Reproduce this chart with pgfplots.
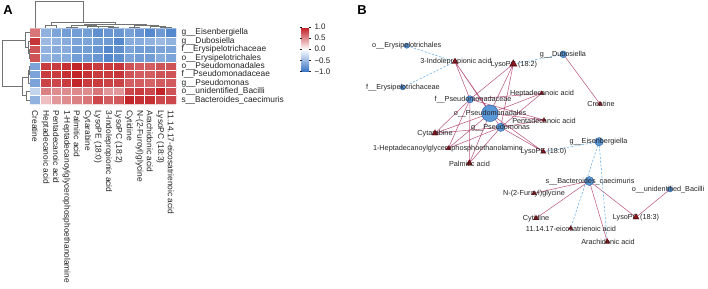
\documentclass[border=0pt]{standalone}
\usepackage{pgfplots}
\pgfplotsset{compat=1.18}
\usepackage{fontspec}
\setmainfont{Liberation Sans}
\usetikzlibrary{calc}

\definecolor{edgepos}{RGB}{188,92,132}
\definecolor{edgeneg}{RGB}{100,172,230}
\definecolor{nodeblue}{RGB}{90,152,216}
\definecolor{nodeblueline}{RGB}{45,95,165}
\definecolor{nodered}{RGB}{145,18,28}
\definecolor{noderedline}{RGB}{105,10,18}
\definecolor{dendro}{RGB}{115,115,115}
\definecolor{txt}{RGB}{35,35,35}

\newcommand{\hmfont}{\fontsize{8.4}{9}\selectfont}
\newcommand{\netfont}{\fontsize{7.3}{8}\selectfont}

\begin{document}
\begin{tikzpicture}
\useasboundingbox (0,0) rectangle (708bp,289bp);

% whole picture in pixel units, y counted from the top
\begin{axis}[at={(0,0)}, anchor=south west, scale only axis,
  width=708bp, height=289bp, xmin=0, xmax=708, ymin=0, ymax=289,
  y dir=reverse, hide axis, clip=false]

% column dendrogram
\addplot[dendro, line width=0.6pt, unbounded coords=jump, mark=none] coordinates {
(45.6,28)(45.6,25)(56.1,25)(56.1,28) (nan,nan)
(66.5,28)(66.5,27)(76.9,27)(76.9,28) (nan,nan)
(108.3,28)(108.3,27)(118.7,27)(118.7,28) (nan,nan)
(97.8,28)(97.8,26.3)(113.5,26.3)(113.5,27) (nan,nan)
(87.4,28)(87.4,25.8)(105.65,25.8)(105.65,26.3) (nan,nan)
(71.7,27)(71.7,25.2)(96.5,25.2)(96.5,25.8) (nan,nan)
(129.1,28)(129.1,27)(139.6,27)(139.6,28) (nan,nan)
(160.4,28)(160.4,27.2)(170.9,27.2)(170.9,28) (nan,nan)
(150,28)(150,26.5)(165.65,26.5)(165.65,27.2) (nan,nan)
(134.35,27)(134.35,25.5)(157.8,25.5)(157.8,26.5) (nan,nan)
(84.1,25.2)(84.1,24.3)(146.1,24.3)(146.1,25.5) (nan,nan)
(50.85,25)(50.85,22)(115.1,22)(115.1,24.3) (nan,nan)
(35.2,28)(35.2,1.2)(83,1.2)(83,22)
};

% row dendrogram
\addplot[dendro, line width=0.6pt, unbounded coords=jump, mark=none] coordinates {
(30,49.5)(29.3,49.5)(29.3,57.9)(30,57.9) (nan,nan)
(30,41.1)(27.8,41.1)(27.8,53.7)(29.3,53.7) (nan,nan)
(30,32.7)(25,32.7)(25,47.4)(27.8,47.4) (nan,nan)
(30,66.3)(29.5,66.3)(29.5,74.7)(30,74.7) (nan,nan)
(29.5,70.5)(28.3,70.5)(28.3,83.1)(30,83.1) (nan,nan)
(30,91.5)(26,91.5)(26,99.9)(30,99.9) (nan,nan)
(28.3,76.8)(22.5,76.8)(22.5,95.7)(26,95.7) (nan,nan)
(25,40.05)(2,40.05)(2,86.25)(22.5,86.25)
};

% network: positive correlations
\addplot[edgepos, line width=0.55pt, unbounded coords=jump, mark=none] coordinates {
(470,99.3)(455,61.7) (nan,nan) (490,113.3)(455,61.7) (nan,nan) (500.7,127.3)(455,61.7) (nan,nan)
(470,99.3)(513.3,64) (nan,nan) (490,113.3)(513.3,64) (nan,nan) (500.7,127.3)(513.3,64) (nan,nan)
(470,99.3)(541.7,93.3) (nan,nan) (490,113.3)(541.7,93.3) (nan,nan) (500.7,127.3)(541.7,93.3) (nan,nan)
(470,99.3)(544,120) (nan,nan) (490,113.3)(544,120) (nan,nan) (500.7,127.3)(544,120) (nan,nan)
(470,99.3)(435,133.3) (nan,nan) (490,113.3)(435,133.3) (nan,nan) (500.7,127.3)(435,133.3) (nan,nan)
(470,99.3)(448.3,148.3) (nan,nan) (490,113.3)(448.3,148.3) (nan,nan) (500.7,127.3)(448.3,148.3) (nan,nan)
(470,99.3)(469.3,163.3) (nan,nan) (490,113.3)(469.3,163.3) (nan,nan) (500.7,127.3)(469.3,163.3) (nan,nan)
(490,113.3)(543.3,151.7) (nan,nan) (500.7,127.3)(543.3,151.7) (nan,nan)
(563.3,54.3)(600,104) (nan,nan)
(670,189.3)(636,217.3) (nan,nan)
(589.3,181)(534,193.3) (nan,nan)
(589.3,181)(536,218.3) (nan,nan)
(589.3,181)(636,217.3) (nan,nan)
(589.3,181)(607.3,241.7)
};

% network: negative correlations
\addplot[edgeneg, line width=0.55pt, dash pattern=on 2.2pt off 1.6pt, unbounded coords=jump, mark=none] coordinates {
(406.7,45.7)(455,61.7) (nan,nan)
(402.7,87.3)(455,61.7) (nan,nan)
(563.3,54.3)(513.3,64) (nan,nan)
(599,141.7)(543.3,151.7) (nan,nan)
(599,141.7)(570.7,228.3) (nan,nan)
(599,141.7)(607.3,241.7)
};

% bacteria nodes
\addplot[scatter, only marks, mark=*, line width=0.4pt,
  scatter/use mapped color={draw=nodeblueline, fill=nodeblue},
  visualization depends on={\thisrow{r} \as \rad},
  scatter/@pre marker code/.append style={/tikz/mark size=\rad}]
  table {
x y r
490 113.3 8.3
589.3 181 4.5
599 141.7 4.2
500.7 127.3 4.2
470 99.3 3.6
563.3 54.3 3.4
406.7 45.7 2.6
402.7 87.3 2.6
670 189.3 2.7
};

% metabolite nodes
\addplot[scatter, only marks, mark=triangle*, line width=0.3pt,
  scatter/use mapped color={draw=noderedline, fill=nodered},
  visualization depends on={\thisrow{r} \as \rad},
  scatter/@pre marker code/.append style={/tikz/mark size=\rad}]
  table {
x y r
455 61.7 3.6
513.3 64 4.3
435 133.3 3.6
541.7 93.3 2.5
544 120 2.5
600 104 2.7
448.3 148.3 2.7
469.3 163.3 3.6
543.3 151.7 3.1
534 193.3 2.7
536 218.3 3.1
636 217.3 3.6
570.7 228.3 2.6
607.3 241.7 3.1
};

% node labels
\addplot[draw=none, mark=none, nodes near coords, point meta=explicit symbolic,
  every node near coord/.append style={font=\netfont, text=txt, anchor=center, inner sep=0pt}]
  table[col sep=comma, meta=lab] {
x,y,lab
406.7,45.7,{o\_\_Erysipelotrichales}
456,62,{3-Indolepropionic acid}
514,64.5,{LysoPC (18:2)}
403,87.5,{f\_\_Erysipelotrichaceae}
473,99.5,{f\_\_Pseudomonadaceae}
490,114,{o\_\_Pseudomonadales}
500.5,127.5,{g\_\_Pseudomonas}
435,134,{Cytarabine}
542,93.5,{Heptadecanoic acid}
544,120.5,{Pentadecanoic acid}
563,54.5,{g\_\_Dubosiella}
601,104,{Creatine}
598.5,142,{g\_\_Eisenbergiella}
448,148.5,{1-Heptadecanoylglycerophosphoethanolamine}
469.5,164,{Palmitic acid}
543.5,152,{LysoPE (18:0)}
590,181.5,{s\_\_Bacteroides\_caecimuris}
534,193.5,{N-(2-Furoyl)glycine}
668,189.5,{o\_\_unidentified\_Bacilli}
536,218.5,{Cytidine}
636,217.5,{LysoPC (18:3)}
571,228.5,{11.14.17-eicosatrienoic acid}
608,242,{Arachidonic acid}
};

\node[font=\fontsize{13}{14}\selectfont\bfseries, text=black] at (axis cs:8,10) {A};
\node[font=\fontsize{13}{14}\selectfont\bfseries, text=black] at (axis cs:362,10) {B};
\end{axis}

% heatmap
\begin{axis}[at={(30bp,185bp)}, anchor=south west, scale only axis,
  width=146bp, height=75.5bp,
  xmin=-0.5, xmax=13.5, ymin=-0.5, ymax=8.5, y dir=reverse,
  axis line style={draw=none}, major tick length=0pt, minor tick length=0pt,
  xtick={0,...,13}, ytick={0,...,8},
  minor xtick={0.5,1.5,...,12.5}, minor ytick={0.5,1.5,...,7.5},
  minor grid style={white, line width=0.7pt}, xminorgrids, yminorgrids, axis on top,
  xticklabels={Creatine, Heptadecanoic acid, Pentadecanoic acid,
    1-Heptadecanoylglycerophosphoethanolamine, Palmitic acid, Cytarabine,
    LysoPE (18:0), 3-Indolepropionic acid, LysoPC (18:2), Cytidine,
    N-(2-Furoyl)glycine, Arachidonic acid, LysoPC (18:3),
    11.14.17-eicosatrienoic acid},
  yticklabels={g\_\_Eisenbergiella, g\_\_Dubosiella, f\_\_Erysipelotrichaceae,
    o\_\_Erysipelotrichales, o\_\_Pseudomonadales, f\_\_Pseudomonadaceae,
    g\_\_Pseudomonas, o\_\_unidentified\_Bacilli, s\_\_Bacteroides\_caecimuris},
  yticklabel pos=right,
  xticklabel style={rotate=-90, anchor=west, font=\hmfont, text=txt},
  yticklabel style={anchor=west, font=\hmfont, text=txt},
  xticklabel shift=3bp, yticklabel shift=2bp,
  colormap={hm}{rgb255=(55,115,195) rgb255=(255,255,255) rgb255=(190,25,30)},
  point meta min=-1, point meta max=1,
  colorbar,
  colorbar style={at={($(parent axis.north east)+(117bp,1.5bp)$)}, anchor=north west,
    width=7.5bp, height=44.5bp,
    axis line style={draw=none},
    ytick={-1,-0.5,0,0.5,1}, yticklabels={−1.0,−0.5,0.0,0.5,1.0},
    yticklabel style={font=\fontsize{8}{9}\selectfont, text=txt},
    major tick length=2bp, tick align=outside, tick style={txt, line width=0.4pt},
    yticklabel pos=right}
  ]
\addplot[matrix plot*, mesh/cols=14, point meta=explicit] table[meta=c] {
x y c
0 0 0.6
1 0 -0.55
2 0 -0.65
3 0 -0.7
4 0 -0.7
5 0 -0.7
6 0 -0.8
7 0 -0.75
8 0 -0.75
9 0 -0.68
10 0 -0.75
11 0 -0.85
12 0 -0.72
13 0 -0.85
0 1 0.88
1 1 -0.5
2 1 -0.55
3 1 -0.6
4 1 -0.65
5 1 -0.65
6 1 -0.7
7 1 -0.72
8 1 -0.85
9 1 -0.6
10 1 -0.6
11 1 -0.55
12 1 -0.5
13 1 -0.55
0 2 0.75
1 2 -0.55
2 2 -0.6
3 2 -0.6
4 2 -0.7
5 2 -0.7
6 2 -0.75
7 2 -0.85
8 2 -0.8
9 2 -0.65
10 2 -0.7
11 2 -0.7
12 2 -0.65
13 2 -0.65
0 3 0.75
1 3 -0.55
2 3 -0.6
3 3 -0.6
4 3 -0.7
5 3 -0.7
6 3 -0.75
7 3 -0.85
8 3 -0.8
9 3 -0.65
10 3 -0.7
11 3 -0.7
12 3 -0.6
13 3 -0.65
0 4 -0.65
1 4 0.85
2 4 0.85
3 4 0.9
4 4 0.95
5 4 0.9
6 4 0.85
7 4 0.85
8 4 0.88
9 4 0.75
10 4 0.7
11 4 0.7
12 4 0.75
13 4 0.75
0 5 -0.65
1 5 0.85
2 5 0.85
3 5 0.9
4 5 0.95
5 5 0.9
6 5 0.85
7 5 0.85
8 5 0.88
9 5 0.75
10 5 0.7
11 5 0.7
12 5 0.75
13 5 0.75
0 6 -0.65
1 6 0.82
2 6 0.8
3 6 0.85
4 6 0.95
5 6 0.85
6 6 0.85
7 6 0.82
8 6 0.82
9 6 0.7
10 6 0.7
11 6 0.68
12 6 0.72
13 6 0.72
0 7 -0.3
1 7 0.55
2 7 0.5
3 7 0.5
4 7 0.52
5 7 0.5
6 7 0.6
7 7 0.45
8 7 0.45
9 7 0.8
10 7 0.85
11 7 0.8
12 7 0.95
13 7 0.75
0 8 -0.55
1 8 0.28
2 8 0.45
3 8 0.5
4 8 0.55
5 8 0.6
6 8 0.8
7 8 0.7
8 8 0.72
9 8 0.95
10 8 0.9
11 8 0.9
12 8 0.8
13 8 0.8
};
\end{axis}
\end{tikzpicture}
\end{document}
